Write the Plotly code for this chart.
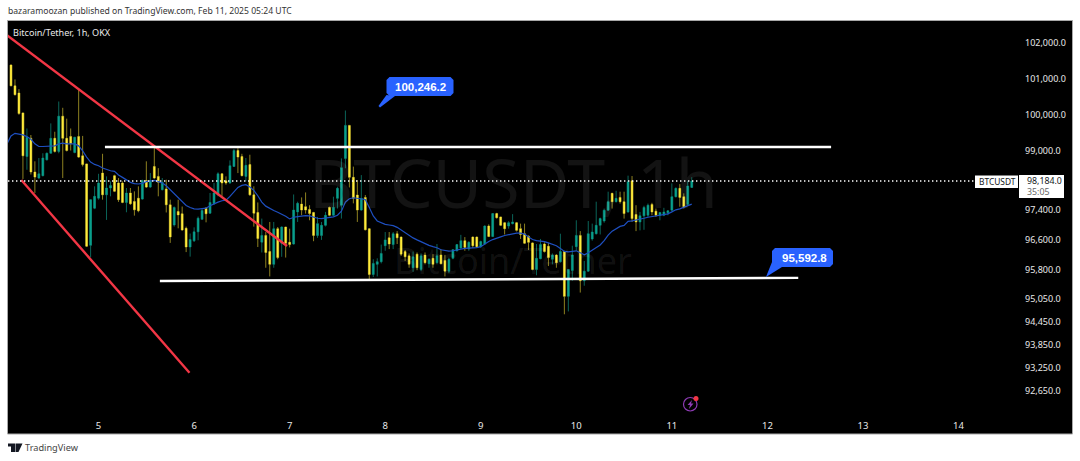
import pandas as pd
import plotly.graph_objects as go

first_candle = "2025-02-04 02:00"
opens = [101380,100800,100600,100050,98850,99350,98430,98265,98330,98760,98940,99350,98990,99960,99350,99400,98960,99400,98870,98650,
96455,97450,97720,98400,97810,97995,98330,98130,98130,97605,97860,97630,97720,97695,98200,98020,98580,98310,97950,97970,
97540,97000,97360,97300,96910,96410,96575,96815,97150,97450,97315,97570,97810,98380,98190,98130,98580,99015,98850,98310,
98630,97810,97335,96540,96720,96290,95950,96900,96510,96945,96535,96490,97350,97560,97490,97415,97335,96720,96720,96990,
97470,97260,97715,97530,98800,99705,98285,97805,97400,97740,96900,95680,95950,96020,96445,96655,96475,96765,96675,96290,
96175,95860,96220,95815,96195,95965,96110,95995,96200,96055,95770,96110,96310,96385,96580,96355,96675,96675,96420,96490,
96970,96690,97305,97215,97060,96970,97035,97060,96900,96765,96700,96520,95815,96100,96490,96430,96085,96195,96020,96290,
95105,95785,96420,96720,95515,95770,96625,96765,96990,97105,97395,97850,97625,97740,97625,97350,98190,97280,97080,97245,
97260,97550,97370,97260,97260,97325,97395,97760,97985,97760,97550,98010]
highs = [101400,100980,100710,100050,99620,99440,98720,98810,98940,98960,99760,99530,100365,100190,99890,99620,99380,100710,99415,98650,
97680,98040,98380,98925,98310,98175,98355,98265,98175,97995,97995,97905,98040,98220,98720,98400,99125,98535,98265,98220,
97680,97495,97680,97495,96955,96770,96935,97225,97450,97480,97860,98130,98420,98400,98310,98745,99055,99080,98925,98810,
98900,98040,97605,97170,96810,97080,97080,96945,96960,96945,96900,97820,97625,97740,97875,97530,97350,97215,97080,97350,
97490,97760,98030,98800,100115,99705,98575,98210,98345,97805,96900,96085,96110,96475,96810,96810,96810,96835,96690,96330,
96240,96290,96265,96240,96265,96110,96220,96490,96355,96200,96130,96355,96490,96735,96675,96565,96690,96690,96580,96990,
97015,97305,97325,97215,97080,97100,97290,97080,97035,97035,96720,96535,96490,96625,96535,96520,96240,96220,96765,96310,
95815,96445,97125,96835,96040,97105,97035,97625,97195,97440,97895,97865,97920,97895,97895,98330,98320,97530,97350,97515,
97575,97595,97440,97350,97460,97395,98120,98010,98100,97850,98190,98285]
lows = [100790,100530,100000,98240,98490,98360,97860,98240,98310,98745,98940,98960,98940,98265,98990,99015,98940,98810,98580,96410,
96140,97425,97680,97680,97135,97770,97885,97620,97585,97340,97540,97250,97340,97680,97995,97995,98240,97770,97930,97335,
96520,96955,96910,96845,96275,96155,96545,96590,97135,97070,97297,97540,97770,97770,98085,98110,98565,98400,98310,98175,
97785,96955,96410,96265,95860,95630,95860,96085,96150,96130,96400,96475,97080,97260,97305,97125,96565,96655,96600,96960,
97235,97235,97440,97170,98530,98010,97580,97080,97380,96855,95560,95615,95630,95975,96310,96355,96355,96490,96175,96040,
95860,95750,95795,95770,95950,95860,95860,95950,95950,95630,95720,96085,96290,96355,96310,96310,96385,96385,96385,96475,
96675,96675,97170,96970,96745,96900,97015,96825,96625,96490,96330,95795,95660,96085,96265,95905,95950,95860,95995,94635,
94710,95515,96310,95205,95385,95750,96580,96745,96745,97060,97380,97440,97605,97575,97170,97325,97080,96835,96855,96870,
97215,97260,97215,97125,97235,97260,97380,97740,97490,97440,97530,98010]
closes = [100800,100555,100030,98870,99380,98430,98290,98380,98810,98940,99350,98990,99960,99350,99015,99200,99380,98835,98630,96430,
97680,97770,98130,97810,97995,98060,97905,97680,97605,97860,97570,97405,97380,98200,98020,98200,98265,98150,98150,97540,
96680,97470,97270,96865,96410,96610,96815,97180,97390,97300,97605,97860,98380,98130,98130,98600,99015,98835,98330,98610,
97810,97315,96635,96720,96265,95950,96900,96130,96945,96510,96475,97400,97580,97400,97400,97305,96720,97035,96990,97260,
97260,97470,97985,98545,99705,98285,97715,97400,97715,96870,95680,95975,96020,96240,96600,96490,96765,96655,96220,96150,
95950,96150,95860,96175,95995,96085,95950,96175,95965,95770,96085,96340,96475,96580,96400,96535,96445,96420,96555,96970,
96690,97305,97195,96990,96900,97060,97080,96855,96745,96510,96535,95815,96110,96475,96290,96130,96195,95995,96290,95105,
95815,96195,96720,95515,95770,96765,96810,96990,97170,97395,97625,97625,97715,97625,97305,98165,97170,97080,97245,97470,
97530,97350,97260,97335,97350,97380,97760,97985,97740,97490,98050,98184]
ma_start = "2025-02-04 01:00"
ma_values = [99197,99415,99487,99469,99442,99396,99324,99197,99125,99125,99125,99143,99143,99197,99215,99197,99197,99197,99143,99008,98835,
98700,98636,98600,98537,98492,98464,98446,98347,98283,98220,98148,98112,98103,98121,98166,98184,98202,98166,98130,98057,
97949,97858,97750,97632,97523,97469,97433,97424,97433,97451,97514,97568,97614,97650,97668,97768,97903,98012,98066,98084,
98021,97930,97786,97614,97505,97442,97387,97342,97297,97234,97161,97206,97225,97243,97252,97243,97206,97179,97170,97188,
97197,97216,97261,97369,97614,97704,97731,97722,97704,97686,97469,97243,97107,97053,97016,96998,96980,96935,96862,96790,
96718,96654,96600,96546,96491,96455,96419,96392,96338,96310,96301,96310,96338,96356,96374,96383,96383,96392,96419,96491,
96555,96609,96654,96681,96718,96745,96772,96781,96781,96754,96681,96609,96582,96573,96555,96519,96473,96446,96374,96292,
96283,96292,96310,96256,96202,96256,96329,96383,96464,96582,96727,96835,96899,96962,96989,97098,97107,97125,97143,97179,
97206,97225,97234,97252,97270,97297,97351,97406,97433,97469,97523,97560]
last_price = 98184.0

red_upper_t = ["2025-02-04 00:15", "2025-02-06 23:20"]
red_upper_p = [102281, 96436]
red_lower_t = ["2025-02-04 04:36", "2025-02-05 22:50"]
red_lower_p = [98211, 93120]
white_top_t = ["2025-02-05 01:36", "2025-02-12 16:00"]
white_top_p = [99111, 99111]
white_bottom_t = ["2025-02-05 15:24", "2025-02-12 07:45"]
white_bottom_p = [95509, 95592.8]

price_ticks = [102000,101000,100000,99000,97400,96600,95800,95050,94450,93850,93250,92650]
price_labels = [f"{p:,.1f}" for p in price_ticks]
day_ticks = [f"2025-02-{d:02d}" for d in range(5, 15)]
day_labels = [str(d) for d in range(5, 15)]

times = pd.date_range(first_candle, periods=len(closes), freq="h")
ma_times = pd.date_range(ma_start, periods=len(ma_values), freq="h")
body_high = [max(o, c) for o, c in zip(opens, closes)]
body_low = [min(o, c) for o, c in zip(opens, closes)]

YEL, TEAL = "#ffeb3b", "#089f8c"
YEL_W, TEAL_W = "#8d8020", "#0b6459"
L, R, T, B = 8, 1019, 21, 434
W, H = 1080, 461
X = lambda px: (px - L) / (R - L)
Y = lambda py: 1 - (py - T) / (B - T)

fig = go.Figure()
fig.add_trace(go.Candlestick(x=times, open=opens, high=highs, low=lows, close=closes, whiskerwidth=0,
    increasing=dict(line=dict(color=TEAL_W, width=1), fillcolor=TEAL_W),
    decreasing=dict(line=dict(color=YEL_W, width=1), fillcolor=YEL_W), hoverinfo="skip"))
fig.add_trace(go.Candlestick(x=times, open=opens, high=body_high, low=body_low, close=closes, whiskerwidth=0,
    increasing=dict(line=dict(color=TEAL, width=0), fillcolor=TEAL),
    decreasing=dict(line=dict(color=YEL, width=0), fillcolor=YEL), hoverinfo="skip"))
fig.add_trace(go.Scatter(x=ma_times, y=ma_values, mode="lines", line=dict(color="#1e4fc0", width=1.2), hoverinfo="skip"))
for tx, py in ((red_upper_t, red_upper_p), (red_lower_t, red_lower_p)):
    fig.add_trace(go.Scatter(x=tx, y=py, mode="lines", line=dict(color="#f23645", width=2.4), hoverinfo="skip"))
for tx, py in ((white_top_t, white_top_p), (white_bottom_t, white_bottom_p)):
    fig.add_trace(go.Scatter(x=tx, y=py, mode="lines", line=dict(color="#ffffff", width=2.4), hoverinfo="skip"))

def path(points, close=True):
    return "M " + " L ".join(f"{X(a):.5f},{Y(b):.5f}" for a, b in points) + (" Z" if close else "")

def rrect(x0, y0, x1, y1, r=3):
    return path([(x0+r,y0),(x1-r,y0),(x1,y0+r),(x1,y1-r),(x1-r,y1),(x0+r,y1),(x0,y1-r),(x0,y0+r)])

def pshape(p, fill, line=None, lw=0, layer="above"):
    return dict(type="path", xref="paper", yref="paper", path=p, fillcolor=fill, layer=layer,
                line=dict(color=line or fill, width=lw))

shapes = [
    dict(type="rect", xref="paper", yref="paper", x0=X(7.5), x1=X(1072.5), y0=Y(434), y1=Y(20.5),
         fillcolor="#000000", line=dict(color="#a8a8a8", width=1), layer="below"),
    dict(type="line", xref="paper", yref="y", x0=0, x1=X(974), y0=last_price, y1=last_price,
         line=dict(color="#ffffff", width=1.4, dash="1.4px,2.6px"), layer="above"),
    pshape(rrect(386.5, 77, 453.5, 96), "#2962ff"),
    pshape(path([(386.5, 95), (395, 96), (380, 107.5), (378.5, 106)]), "#2962ff"),
    pshape(rrect(772, 248, 833, 267), "#2962ff"),
    pshape(path([(772, 262), (782, 267), (766, 277)]), "#2962ff"),
    pshape(path([(975, 175.5), (1018, 175.5), (1018, 188), (975, 188)]), "#ffffff"),
    pshape(path([(1019, 175), (1064, 175), (1064, 198), (1019, 198)]), "#ffffff"),
    dict(type="circle", xref="paper", yref="paper", x0=X(683.5), x1=X(697), y0=Y(411), y1=Y(397.5),
         line=dict(color="#8e3bb5", width=1.2), fillcolor="rgba(0,0,0,0)"),
    pshape(path([(692,400),(687.5,405),(690,405),(689,409),(693.5,403.5),(691,403.5)]), "#8e3bb5"),
    dict(type="circle", xref="paper", yref="paper", x0=X(693.5), x1=X(698.5), y0=Y(401), y1=Y(396),
         line=dict(width=0), fillcolor="#f23645"),
    pshape(path([(8,443.5),(15,443.5),(15,452),(11,452),(11,446.5),(8,446.5)]), "#131722"),
    pshape(path([(15.5,443.5),(22.5,443.5),(18.5,452),(15.5,452)]), "#131722"),
]

def note(px, py, text, size, color, anchor="left", font="Noto Sans", weight=None):
    return dict(xref="paper", yref="paper", x=X(px), y=Y(py), text=text, showarrow=False, xanchor=anchor,
                yanchor="middle", font=dict(family=font, size=size, color=color, weight=weight), align=anchor)

annotations = [
    note(513, 181, "BTCUSDT, 1h", 68, "rgba(255,255,255,0.075)", "center"),
    note(513, 260, "Bitcoin/Tether", 36, "rgba(255,255,255,0.075)", "center"),
    note(6, 11, "bazaramoozan published on TradingView.com, Feb 11, 2025 05:24 UTC", 8.6, "#333333"),
    note(11, 32, "Bitcoin/Tether, 1h, OKX", 9.1, "#e8e8e8"),
    note(23, 448, "TradingView", 9.2, "#444444"),
    note(420, 87, "100,246.2", 11.5, "#ffffff", "center", "Liberation Sans", "bold"),
    note(804, 257.5, "95,592.8", 11.5, "#ffffff", "center", "Liberation Sans", "bold"),
    note(977, 181.5, "BTCUSDT", 8.4, "#131722"),
    note(1025, 181, "98,184.0", 8.8, "#131722"),
    note(1025, 192, "35:05", 8.8, "#666666"),
]

fig.update_layout(
    width=W, height=H, autosize=False, showlegend=False,
    margin=dict(l=L, r=W - R, t=T, b=H - B, autoexpand=False),
    paper_bgcolor="#ffffff", plot_bgcolor="#000000",
    boxgap=0.35, shapes=shapes, annotations=annotations,
    xaxis=dict(type="date", range=["2025-02-04 01:15", "2025-02-14 15:12"], rangeslider=dict(visible=False),
               showgrid=False, zeroline=False, showline=False, ticks="", tickmode="array",
               tickvals=day_ticks, ticktext=day_labels, ticklabelposition="inside",
               tickfont=dict(family="Noto Sans", size=9.5, color="#e8e8e8")),
    yaxis=dict(type="log", side="right", range=[4.96169, 5.01124], showgrid=False, zeroline=False, showline=False,
               ticks="", tickmode="array", tickvals=price_ticks, ticktext=price_labels, ticklabelstandoff=5,
               tickfont=dict(family="Noto Sans", size=9, color="#e8e8e8")),
)
fig.write_html("out.html", config=dict(displayModeBar=False),
               post_script="document.body.style.margin='0';document.documentElement.style.overflow='hidden';")
